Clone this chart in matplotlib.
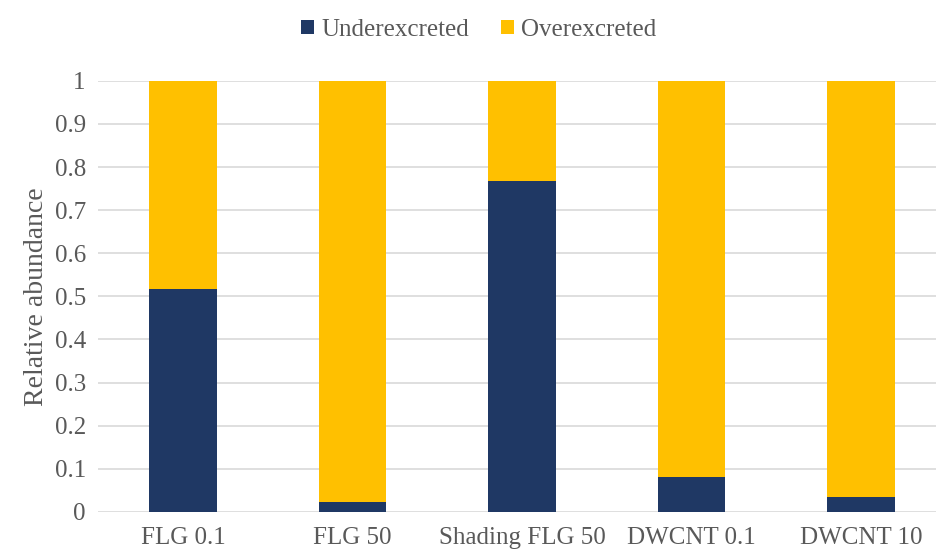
import numpy as np
from matplotlib import pyplot as plt

categories = ["FLG 0.1", "FLG 50", "Shading FLG 50", "DWCNT 0.1", "DWCNT 10"]
under = [0.518, 0.024, 0.768, 0.081, 0.034]
over = [1 - v for v in under]

navy = "#1F3864"
gold = "#FFC000"
txt = "#595959"

plt.rcParams['font.family'] = ['Liberation Serif', 'DejaVu Serif']

fig = plt.figure(figsize=(9.37, 5.54), dpi=100)
ax = fig.add_axes([0.1049, 0.076, 0.9045, 0.778])

x = np.arange(len(categories))
ax.bar(x, under, width=0.4, color=navy, label="Underexcreted", zorder=3)
ax.bar(x, over, width=0.4, bottom=under, color=gold, label="Overexcreted", zorder=3)

ax.set_xlim(-0.5, len(categories) - 0.5)
ax.set_ylim(0, 1)
ax.set_yticks(np.arange(0, 1.01, 0.1))
ax.set_yticklabels(["0", "0.1", "0.2", "0.3", "0.4", "0.5", "0.6", "0.7", "0.8", "0.9", "1"])
ax.set_xticks(x)
ax.set_xticklabels(categories)
ax.tick_params(axis='both', length=0, colors=txt, labelsize=18)
ax.tick_params(axis='y', pad=9)
ax.tick_params(axis='x', pad=11)
ax.set_ylabel("Relative abundance", color=txt, fontsize=20, labelpad=4)
ax.grid(axis='y', color="#D9D9D9", linewidth=1.2, zorder=0)
for s in ax.spines.values():
    s.set_visible(False)

ax.legend(loc='center', bbox_to_anchor=(0.449, 1.118), ncol=2, frameon=False,
          fontsize=18, labelcolor=txt, handlelength=0.5, handleheight=0.5,
          handletextpad=0.3, columnspacing=1.3)

plt.savefig("out.png", dpi=100)
